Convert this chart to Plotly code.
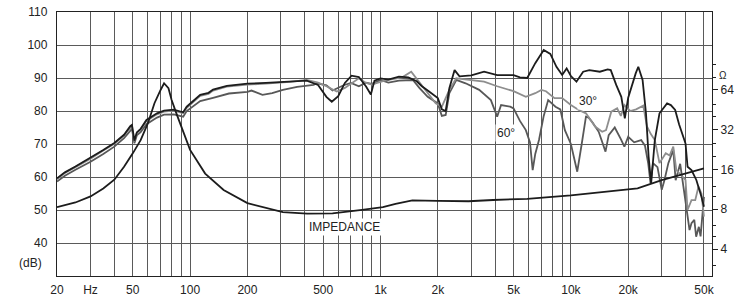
import math
import plotly.graph_objects as go

# ---------------- data ----------------
freq_0 = [20, 22, 25, 30, 35, 40, 45, 48.5, 49.5, 51, 52.5, 55, 59, 67, 73, 82, 88, 92, 96, 105, 113,
          125, 132, 156, 200, 250, 335, 410, 470, 520, 555, 600, 650, 705, 770, 840, 890, 930, 1000,
          1100, 1250, 1400, 1550, 1650, 1800, 2000, 2100, 2200, 2300, 2450, 2600, 3000, 3500, 4100,
          5000, 5400, 5900, 6500, 7200, 7800, 8400, 9000, 9500, 10000, 10700, 11600, 12500, 14200,
          15600, 16200, 17300, 18400, 19200, 20000, 21900, 22600, 23800, 24800, 25600, 26400, 27600,
          29200, 32000, 33500, 35300, 37000, 40000, 41000, 43000, 45600, 48500, 50000]
spl_0 = [59.6, 61.4, 63.2, 65.8, 68.2, 70.3, 72.8, 75.4, 75.8, 71.0, 73.5, 74.6, 77.3, 79.3, 80.1,
         80.4, 79.9, 79.6, 81.3, 83.3, 84.9, 85.5, 86.5, 87.6, 88.3, 88.5, 88.9, 89.2, 87.9, 84.3,
         82.8, 84.5, 88.5, 90.7, 90.3, 87.4, 85.0, 89.2, 89.9, 89.5, 90.4, 90.2, 89.0, 87.5, 85.9,
         83.9, 80.5, 80.0, 86.9, 92.4, 90.5, 90.8, 91.9, 90.9, 90.9, 90.2, 90.0, 94.5, 98.5, 97.3,
         93.4, 90.9, 92.9, 90.6, 88.9, 91.9, 92.4, 91.9, 92.6, 92.4, 87.9, 84.3, 77.8, 84.0, 91.4,
         93.4, 89.4, 79.3, 66.2, 58.1, 71.2, 79.3, 82.3, 81.8, 80.3, 76.0, 70.2, 63.1, 62.1, 59.1,
         54.0, 51.0]

freq_30 = [20, 22, 25, 30, 35, 40, 45, 48.5, 49.5, 51, 52.5, 55, 59, 67, 73, 82, 88, 92, 96, 105,
           113, 125, 132, 156, 200, 250, 335, 410, 470, 520, 590, 650, 770, 840, 900, 1000, 1050,
           1200, 1300, 1450, 1550, 1700, 1950, 2100, 2300, 2500, 3000, 3500, 4100, 5000, 5800, 6500,
           7000, 7400, 8200, 9000, 10000, 11000, 12000, 13400, 14600, 15300, 16300, 17500, 18300,
           19100, 20500, 22000, 24000, 25100, 26300, 27600, 29200, 30500, 31500, 33000, 34500,
           35800, 38000, 40000, 41000, 43000, 45000, 46800, 48500, 50000]
spl_30 = [59.3, 61.2, 63.0, 65.5, 68.0, 70.1, 72.6, 75.1, 75.5, 70.8, 73.3, 74.4, 77.0, 79.0, 79.8,
          80.1, 79.6, 79.3, 81.0, 83.0, 84.6, 85.2, 86.2, 87.4, 88.0, 88.3, 88.8, 89.4, 88.6, 87.5,
          85.9, 87.0, 89.9, 88.5, 88.0, 88.8, 89.2, 89.8, 90.2, 91.9, 89.8, 86.7, 82.3, 81.3, 86.4,
          89.9, 89.4, 88.9, 87.5, 86.0, 84.3, 85.4, 86.4, 86.0, 83.9, 83.9, 81.8, 80.3, 79.3, 75.3,
          73.7, 74.2, 79.8, 80.8, 78.5, 81.8, 80.0, 80.5, 81.6, 75.3, 73.0, 71.2, 64.2, 66.0, 67.2,
          66.5, 69.2, 62.1, 60.5, 59.1, 50.0, 53.0, 53.0, 57.1, 55.0, 48.0]

freq_60 = [20, 22, 25, 30, 35, 40, 45, 48.5, 49.5, 51, 52.5, 55, 59, 67, 73, 82, 88, 92, 96, 105,
           113, 132, 160, 200, 210, 240, 270, 307, 365, 445, 465, 520, 560, 640, 700, 770, 840, 900,
           1000, 1100, 1250, 1480, 1600, 1770, 2000, 2100, 2200, 2300, 2500, 2800, 3300, 3800, 4100,
           4300, 4800, 5000, 5400, 5800, 6100, 6300, 6500, 6800, 7200, 7600, 8300, 8800, 9300,
           10000, 10800, 11400, 12000, 12400, 13000, 14000, 15200, 15800, 17000, 18300, 19100,
           20000, 21500, 23400, 24500, 25500, 26200, 27000, 28500, 30000, 31000, 32500, 34500,
           35500, 37500, 39000, 40500, 42000, 43000, 44500, 45500, 47000, 48000, 49000, 50000]
spl_60 = [58.6, 60.4, 62.2, 64.6, 67.0, 69.2, 71.8, 74.2, 74.6, 70.2, 72.6, 73.6, 76.0, 78.0, 78.9,
          79.0, 78.5, 78.3, 80.0, 81.8, 83.0, 84.0, 85.3, 85.8, 86.2, 84.9, 85.4, 86.4, 87.3, 87.9,
          88.4, 87.8, 86.2, 87.8, 88.5, 87.5, 88.6, 88.2, 89.4, 88.6, 89.2, 89.4, 87.0, 84.3, 82.3,
          78.5, 78.8, 85.4, 89.4, 88.4, 86.4, 83.3, 78.3, 81.8, 81.3, 80.8, 77.0, 74.2, 70.5, 62.1,
          67.0, 71.2, 78.5, 83.3, 81.3, 80.5, 74.2, 70.0, 61.6, 70.0, 78.3, 78.0, 76.5, 73.7, 67.7,
          72.7, 75.0, 71.5, 69.2, 72.2, 70.5, 71.2, 69.5, 64.0, 58.1, 64.2, 63.0, 56.1, 59.0, 64.2,
          68.2, 59.0, 64.0, 57.1, 50.0, 43.9, 46.0, 47.0, 41.9, 44.9, 42.0, 47.0, 54.0]

freq_imp = [20, 25, 30, 35, 40, 45, 50, 55, 60, 65, 70, 73, 77, 80, 85, 90, 100, 120, 150, 200,
            250, 307, 412, 560, 800, 1030, 1200, 1470, 2000, 2900, 3900, 5900, 10000, 15200, 22400,
            30000, 38000, 50000]
ohm_imp = [8.3, 9.0, 10.0, 11.5, 13.4, 16.8, 21.2, 26.7, 35.7, 50.8, 64.0, 72.0, 66.0, 53.8, 42.0,
           33.8, 22.5, 14.9, 11.2, 8.9, 8.2, 7.6, 7.4, 7.45, 7.9, 8.3, 8.8, 9.35, 9.25, 9.2, 9.4,
           9.6, 10.2, 10.9, 11.5, 13.3, 14.6, 16.3]

x_tick_vals = [20, 30, 50, 100, 200, 500, 1000, 2000, 5000, 10000, 20000, 50000]
x_tick_text = ["20", "Hz", "50", "100", "200", "500", "1k", "2k", "5k", "10k", "20k", "50k"]
x_minor_vals = [40, 60, 70, 80, 90, 300, 400, 600, 700, 800, 900, 3000, 4000, 6000, 7000, 8000,
                9000, 30000, 40000]
db_tick_vals = [40, 50, 60, 70, 80, 90, 100, 110]
ohm_tick_vals = [4, 8, 16, 32, 64]
ohm_minor_vals = [3, 5, 6, 10, 12, 20, 25, 40, 50, 80, 100]

# label anchors (frequency, dB)
label_impedance = (650, 45.0)
label_30 = (12300, 83.0)
label_60 = (4560, 73.3)

# ---------------- figure ----------------
FONT = "Liberation Sans, Arial, sans-serif"
GRID = "#5a5a5a"

fig = go.Figure()
fig.add_trace(go.Scatter(x=freq_60, y=spl_60, mode="lines",
                         line=dict(color="#585858", width=1.8), name="60°"))
fig.add_trace(go.Scatter(x=freq_30, y=spl_30, mode="lines",
                         line=dict(color="#8e8e8e", width=1.8), name="30°"))
fig.add_trace(go.Scatter(x=freq_0, y=spl_0, mode="lines",
                         line=dict(color="#1c1c1c", width=1.8), name="0°"))
fig.add_trace(go.Scatter(x=freq_imp, y=ohm_imp, mode="lines", yaxis="y2",
                         line=dict(color="#1c1c1c", width=1.8), name="Impedance"))


def lbl(pos, text):
    return dict(x=math.log10(pos[0]), y=pos[1], xref="x", yref="y", text=text,
                showarrow=False, bgcolor="white", font=dict(size=12),
                xanchor="center", yanchor="middle", borderpad=1)


fig.update_layout(
    template="none",
    width=744, height=299,
    margin=dict(l=57, r=32, t=12, b=23, autoexpand=False),
    paper_bgcolor="white", plot_bgcolor="white",
    showlegend=False,
    font=dict(family=FONT, size=12, color="#222"),
    xaxis=dict(type="log", range=[1.30103, 4.7412], automargin=False,
               tickmode="array", tickvals=x_tick_vals, ticktext=x_tick_text,
               showgrid=True, gridcolor=GRID, gridwidth=1,
               minor=dict(tickmode="array", tickvals=x_minor_vals, showgrid=True,
                          gridcolor=GRID, gridwidth=1, ticks=""),
               showline=True, linecolor="#222", linewidth=1.3, mirror=True,
               ticks="", zeroline=False, ticklabelstandoff=2),
    yaxis=dict(range=[30, 110], tickmode="array", tickvals=db_tick_vals, automargin=False,
               showgrid=True, gridcolor=GRID, gridwidth=1,
               showline=True, linecolor="#222", linewidth=1.3,
               ticks="", zeroline=False, ticklabelstandoff=6),
    yaxis2=dict(type="log", range=[0.3976, 2.3968], overlaying="y", side="right",
                automargin=False,
                tickmode="array", tickvals=ohm_tick_vals, showgrid=False,
                showline=True, linecolor="#222", linewidth=1.3,
                ticks="outside", ticklen=5, tickcolor="#222",
                minor=dict(tickmode="array", tickvals=ohm_minor_vals, ticks="outside",
                           ticklen=3, tickcolor="#222", showgrid=False),
                zeroline=False),
    annotations=[
        lbl(label_impedance, "IMPEDANCE"),
        lbl(label_30, "30°"),
        lbl(label_60, "60°"),
        dict(x=1.0168, y=0.7576, xref="paper", yref="paper", text="Ω", showarrow=False,
             font=dict(size=10), xanchor="center", yanchor="middle"),
        dict(x=-0.0397, y=0.049, xref="paper", yref="paper", text="(dB)", showarrow=False,
             font=dict(size=12), xanchor="center", yanchor="middle"),
    ],
)

fig.write_html("out.html", config={"displayModeBar": False},
               post_script="document.body.style.margin='0';document.body.style.overflow='hidden';")
